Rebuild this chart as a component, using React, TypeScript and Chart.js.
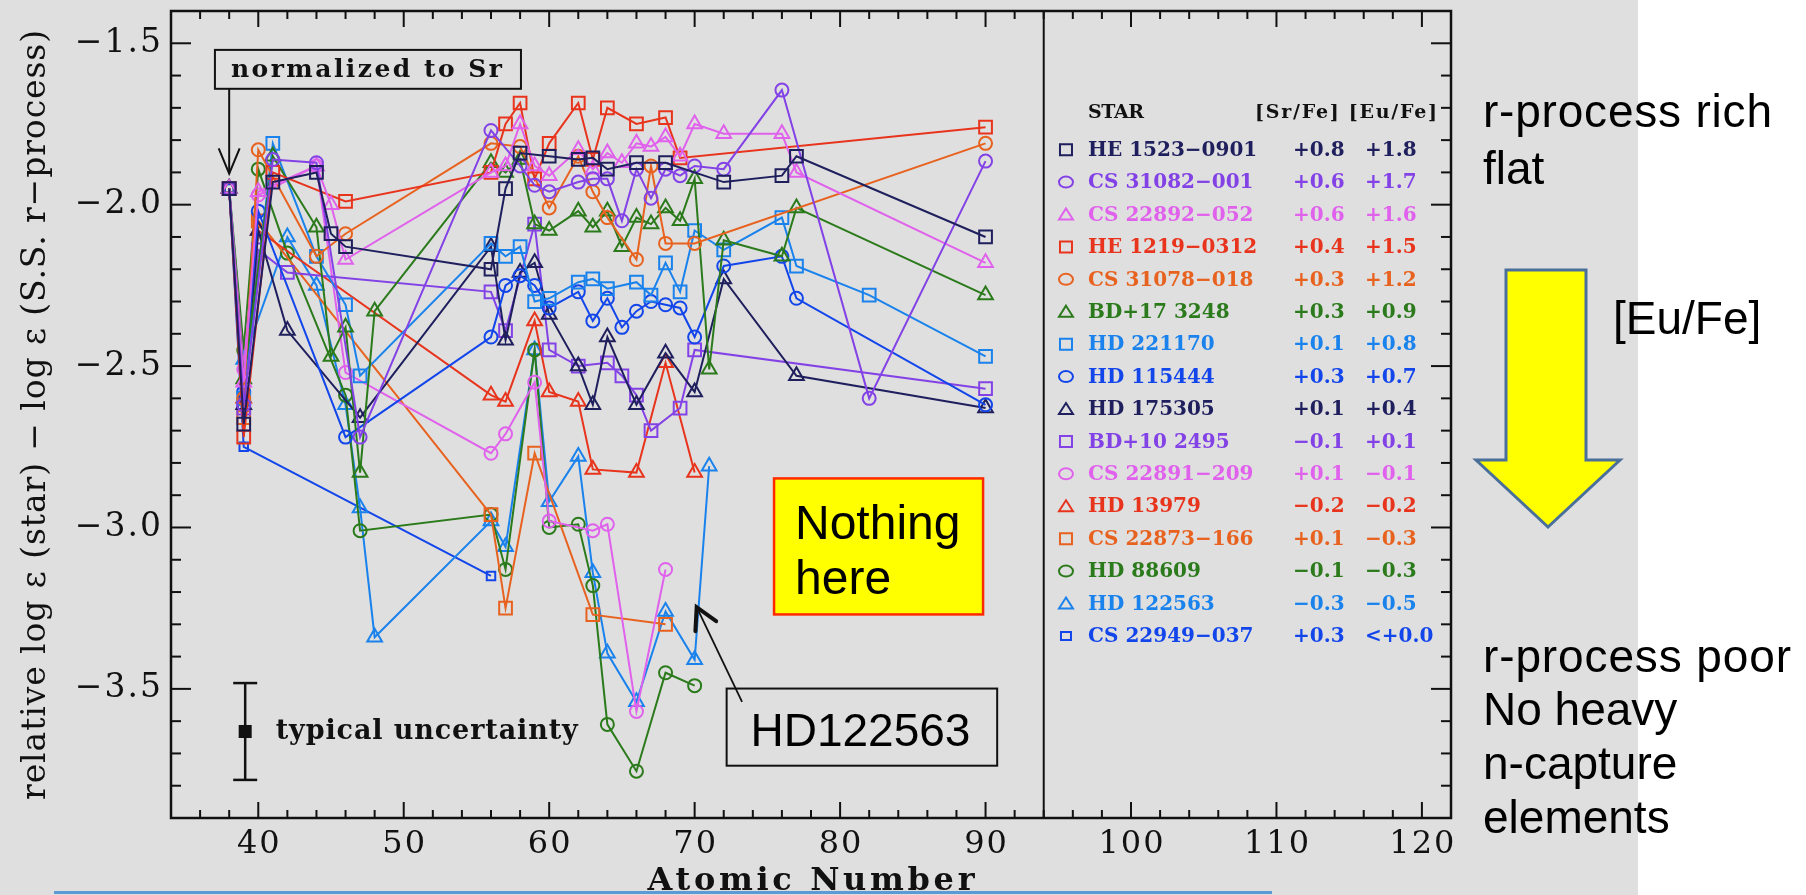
import React, { useEffect, useRef } from 'react';
import { Chart, registerables } from 'chart.js';
Chart.register(...registerables);

// ---------- data (atomic number Z, relative log eps) ----------
const HE1523_Z = [38, 39, 41, 44, 45, 46, 56, 57, 58, 60, 62, 63, 64, 66, 68, 72, 76, 77, 90];
const HE1523_V = [-1.95, -2.68, -1.93, -1.90, -2.09, -2.13, -2.20, -1.95, -1.84, -1.85, -1.86, -1.855, -1.89, -1.87, -1.87, -1.93, -1.91, -1.85, -2.10];

const CS31082_Z = [38, 39, 41, 44, 47, 56, 58, 59, 60, 62, 63, 64, 65, 66, 67, 68, 69, 70, 72, 76, 82, 90];
const CS31082_V = [-1.95, -2.62, -1.86, -1.87, -2.72, -1.77, -1.88, -1.94, -1.96, -1.93, -1.92, -1.92, -2.05, -1.89, -1.98, -1.89, -1.91, -1.88, -1.89, -1.645, -2.60, -1.865];

const CS22892_Z = [38, 39, 40, 44, 45, 46, 56, 57, 58, 59, 60, 62, 63, 64, 65, 66, 67, 68, 69, 70, 72, 76, 77, 90];
const CS22892_V = [-1.95, -2.55, -1.96, -1.88, -2.00, -2.17, -1.90, -1.88, -1.75, -1.88, -1.91, -1.83, -1.89, -1.84, -1.87, -1.81, -1.82, -1.79, -1.85, -1.75, -1.78, -1.78, -1.90, -2.18];

const HE1219_Z = [38, 39, 41, 46, 56, 57, 58, 59, 60, 62, 63, 64, 66, 68, 69, 90];
const HE1219_V = [-1.95, -2.72, -1.90, -1.99, -1.90, -1.75, -1.685, -1.92, -1.81, -1.685, -1.86, -1.70, -1.75, -1.73, -1.855, -1.76];

const CS31078_Z = [38, 39, 40, 44, 46, 56, 58, 60, 62, 63, 64, 66, 67, 68, 70, 90];
const CS31078_V = [-1.95, -2.60, -1.83, -2.16, -2.09, -1.81, -1.82, -2.01, -1.85, -1.96, -2.04, -2.17, -1.88, -2.12, -2.12, -1.81];

const BD17_Z = [38, 39, 41, 44, 45, 46, 47, 48, 56, 57, 58, 59, 60, 62, 63, 64, 65, 66, 67, 68, 69, 70, 71, 72, 76, 77, 90];
const BD17_V = [-1.95, -2.54, -1.85, -2.07, -2.47, -2.38, -2.83, -2.33, -1.87, -1.90, -1.86, -2.06, -2.08, -2.02, -2.07, -2.02, -2.13, -2.04, -2.06, -2.01, -2.05, -1.92, -2.51, -2.11, -2.16, -2.01, -2.28];

const HD221170_Z = [38, 39, 41, 44, 46, 47, 56, 57, 58, 59, 60, 62, 63, 64, 66, 67, 68, 69, 70, 72, 76, 77, 82, 90];
const HD221170_V = [-1.95, -2.60, -1.81, -2.16, -2.31, -2.53, -2.12, -2.16, -2.13, -2.30, -2.29, -2.24, -2.23, -2.26, -2.24, -2.28, -2.18, -2.27, -2.08, -2.14, -2.04, -2.19, -2.28, -2.47];

const HD115444_Z = [38, 39, 40, 46, 56, 57, 58, 59, 60, 62, 63, 64, 65, 66, 67, 68, 69, 70, 72, 76, 77, 90];
const HD115444_V = [-1.95, -2.58, -2.02, -2.72, -2.41, -2.25, -2.22, -2.25, -2.32, -2.27, -2.36, -2.29, -2.38, -2.33, -2.30, -2.31, -2.32, -2.41, -2.19, -2.16, -2.29, -2.62];

const HD175305_Z = [38, 39, 40, 42, 47, 56, 57, 58, 59, 60, 62, 63, 64, 66, 68, 70, 72, 77, 90];
const HD175305_V = [-1.95, -2.62, -2.08, -2.39, -2.66, -2.13, -2.42, -2.21, -2.18, -2.34, -2.50, -2.62, -2.41, -2.62, -2.46, -2.58, -2.23, -2.53, -2.63];

const BD10_Z = [38, 39, 40, 42, 56, 57, 59, 60, 62, 64, 65, 66, 67, 69, 70, 90];
const BD10_V = [-1.95, -2.63, -2.14, -2.21, -2.27, -2.39, -2.06, -2.45, -2.50, -2.49, -2.53, -2.59, -2.70, -2.63, -2.45, -2.57];

const CS22891_Z = [38, 39, 40, 44, 46, 56, 57, 59, 60, 63, 64, 66, 68];
const CS22891_V = [-1.95, -2.51, -1.97, -1.88, -2.52, -2.77, -2.71, -2.55, -2.98, -3.01, -2.99, -3.57, -3.13];

const HD13979_Z = [38, 39, 40, 56, 57, 59, 60, 62, 63, 66, 68, 70];
const HD13979_V = [-1.95, -2.60, -2.08, -2.59, -2.61, -2.36, -2.58, -2.61, -2.82, -2.83, -2.49, -2.83];

const CS22873_Z = [38, 39, 40, 56, 57, 59, 63, 68];
const CS22873_V = [-1.95, -2.66, -2.05, -2.96, -3.25, -2.77, -3.27, -3.30];

const HD88609_Z = [38, 39, 40, 42, 46, 47, 56, 57, 59, 60, 62, 63, 64, 66, 68, 70];
const HD88609_V = [-1.95, -2.45, -1.89, -2.15, -2.59, -3.01, -2.96, -3.13, -2.45, -3.00, -2.99, -3.18, -3.61, -3.755, -3.45, -3.49];

const HD122563_Z = [38, 39, 42, 44, 46, 47, 48, 56, 57, 59, 60, 62, 63, 64, 66, 68, 70, 71];
const HD122563_V = [-1.95, -2.48, -2.10, -2.25, -2.62, -2.94, -3.34, -2.98, -3.06, -2.45, -2.92, -2.78, -3.14, -3.39, -3.54, -3.26, -3.41, -2.81];

const CS22949_Z = [38, 39, 56];
const CS22949_V = [-1.95, -2.75, -3.15];

const STAR_NAMES = ['HE 1523\u22120901', 'CS 31082\u2212001', 'CS 22892\u2212052', 'HE 1219\u22120312', 'CS 31078\u2212018', 'BD+17 3248', 'HD 221170', 'HD 115444', 'HD 175305', 'BD+10 2495', 'CS 22891\u2212209', 'HD 13979', 'CS 22873\u2212166', 'HD 88609', 'HD 122563', 'CS 22949\u2212037'];
const SR_FE = ['+0.8', '+0.6', '+0.6', '+0.4', '+0.3', '+0.3', '+0.1', '+0.3', '+0.1', '\u22120.1', '+0.1', '\u22120.2', '+0.1', '\u22120.1', '\u22120.3', '+0.3'];
const EU_FE = ['+1.8', '+1.7', '+1.6', '+1.5', '+1.2', '+0.9', '+0.8', '+0.7', '+0.4', '+0.1', '\u22120.1', '\u22120.2', '\u22120.3', '\u22120.3', '\u22120.5', '<+0.0'];

const Y_TICK_LABELS = ['\u22121.5', '\u22122.0', '\u22122.5', '\u22123.0', '\u22123.5'];
const Y_TICK_VALUES = [-1.5, -2.0, -2.5, -3.0, -3.5];
const X_TICK_VALUES = [40, 50, 60, 70, 80, 90, 100, 110, 120];

// ---------- styles ----------
const NAVY = '#1f1f5e';
const PURPLE = '#8342e6';
const ORCHID = '#e062ec';
const RED = '#e8341c';
const ORANGE = '#e8621f';
const GREEN = '#2b7a1b';
const LBLUE = '#1a82ec';
const BLUE = '#1346ea';

const SERIES = [
  { z: HE1523_Z, v: HE1523_V, color: NAVY, style: 'rect', r: 9 },
  { z: CS31082_Z, v: CS31082_V, color: PURPLE, style: 'circle', r: 6.5 },
  { z: CS22892_Z, v: CS22892_V, color: ORCHID, style: 'triangle', r: 8.5 },
  { z: HE1219_Z, v: HE1219_V, color: RED, style: 'rect', r: 9 },
  { z: CS31078_Z, v: CS31078_V, color: ORANGE, style: 'circle', r: 6.5 },
  { z: BD17_Z, v: BD17_V, color: GREEN, style: 'triangle', r: 8.5 },
  { z: HD221170_Z, v: HD221170_V, color: LBLUE, style: 'rect', r: 9 },
  { z: HD115444_Z, v: HD115444_V, color: BLUE, style: 'circle', r: 6.5 },
  { z: HD175305_Z, v: HD175305_V, color: NAVY, style: 'triangle', r: 8.5 },
  { z: BD10_Z, v: BD10_V, color: PURPLE, style: 'rect', r: 9 },
  { z: CS22891_Z, v: CS22891_V, color: ORCHID, style: 'circle', r: 6.5 },
  { z: HD13979_Z, v: HD13979_V, color: RED, style: 'triangle', r: 8.5 },
  { z: CS22873_Z, v: CS22873_V, color: ORANGE, style: 'rect', r: 9 },
  { z: HD88609_Z, v: HD88609_V, color: GREEN, style: 'circle', r: 6.5 },
  { z: HD122563_Z, v: HD122563_V, color: LBLUE, style: 'triangle', r: 8.5 },
  { z: CS22949_Z, v: CS22949_V, color: BLUE, style: 'rect', r: 6 },
];

const W = 1806;
const H = 895;
const SERIF = '"DejaVu Serif", "Liberation Serif", serif';
const SANS = '"Liberation Sans", Arial, sans-serif';

function spacedText(ctx: CanvasRenderingContext2D, text: string, x: number, y: number, ls: number, align = 'left') {
  (ctx as any).letterSpacing = '0px';
  const n = Array.from(text).length;
  const w = ctx.measureText(text).width + ls * (n - 1);
  let x0 = x;
  if (align === 'center') x0 = x - w / 2;
  else if (align === 'right') x0 = x - w;
  ctx.textAlign = 'left';
  (ctx as any).letterSpacing = ls + 'px';
  ctx.fillText(text, x0, y);
  (ctx as any).letterSpacing = '0px';
}

function fitText(ctx: CanvasRenderingContext2D, text: string, x: number, y: number, width: number, align = 'left') {
  (ctx as any).letterSpacing = '0px';
  const n = Array.from(text).length;
  const w = ctx.measureText(text).width;
  const ls = n > 1 ? (width - w) / (n - 1) : 0;
  spacedText(ctx, text, x, y, ls, align);
}

function line(ctx: CanvasRenderingContext2D, x1: number, y1: number, x2: number, y2: number) {
  ctx.beginPath();
  ctx.moveTo(x1, y1);
  ctx.lineTo(x2, y2);
  ctx.stroke();
}

function legendMarker(ctx: CanvasRenderingContext2D, style: string, cx: number, cy: number, color: string, small: boolean) {
  ctx.strokeStyle = color;
  ctx.lineWidth = 2;
  ctx.beginPath();
  if (style === 'rect') {
    if (small) ctx.rect(cx - 5, cy - 4, 10, 8);
    else ctx.rect(cx - 6, cy - 5.5, 12, 11);
  } else if (style === 'circle') {
    ctx.ellipse(cx, cy, 7, 5.5, 0, 0, Math.PI * 2);
  } else {
    ctx.moveTo(cx, cy - 6);
    ctx.lineTo(cx + 7, cy + 5);
    ctx.lineTo(cx - 7, cy + 5);
    ctx.closePath();
  }
  ctx.stroke();
}

const decorPlugin = {
  id: 'decor',
  beforeDraw(chart: any) {
    const ctx = chart.ctx as CanvasRenderingContext2D;
    ctx.save();
    ctx.fillStyle = '#ffffff';
    ctx.fillRect(0, 0, W, H);
    ctx.fillStyle = '#dfdfdf';
    ctx.fillRect(0, 0, 1638, H);
    ctx.restore();
  },
  afterDraw(chart: any) {
    const ctx = chart.ctx as CanvasRenderingContext2D;
    const { left, right, top, bottom } = chart.chartArea;
    const xs = chart.scales.x;
    const ys = chart.scales.y;
    const px = (v: number) => xs.getPixelForValue(v);
    const py = (v: number) => ys.getPixelForValue(v);
    ctx.save();

    // frame
    ctx.strokeStyle = '#111111';
    ctx.lineWidth = 2.5;
    ctx.strokeRect(left, top, right - left, bottom - top);
    ctx.lineWidth = 2;
    line(ctx, px(94), top, px(94), bottom);

    // y ticks
    for (let i = 0; i <= 25; i++) {
      const v = -3.9 + i * 0.1;
      const major = Math.abs(v * 2 - Math.round(v * 2)) < 1e-6;
      const len = major ? 20 : 10;
      const Y = py(v);
      line(ctx, left, Y, left + len, Y);
      line(ctx, right, Y, right - len, Y);
    }
    // x ticks
    for (let z = 34; z <= 122; z += 2) {
      const major = z % 10 === 0;
      const len = major ? 16 : 8;
      const X = px(z);
      line(ctx, X, bottom, X, bottom - len);
      line(ctx, X, top, X, top + len);
    }

    // tick labels
    ctx.fillStyle = '#111111';
    ctx.font = `33px ${SERIF}`;
    ctx.textBaseline = 'middle';
    Y_TICK_VALUES.forEach((v, i) => spacedText(ctx, Y_TICK_LABELS[i], left - 10, py(v), 2, 'right'));
    ctx.font = `32px ${SERIF}`;
    X_TICK_VALUES.forEach((z) => spacedText(ctx, String(z), px(z), bottom + 27, 2, 'center'));

    // axis titles
    ctx.font = `bold 32px ${SERIF}`;
    ctx.textBaseline = 'alphabetic';
    fitText(ctx, 'Atomic Number', (left + right) / 2, bottom + 72, 327, 'center');
    ctx.save();
    ctx.translate(36, 415);
    ctx.rotate(-Math.PI / 2);
    ctx.font = `33px ${SERIF}`;
    ctx.textBaseline = 'middle';
    fitText(ctx, 'relative log \u03b5 (star) \u2212 log \u03b5 (S.S. r\u2212process)', 0, 0, 770, 'center');
    ctx.restore();

    // legend
    const LEG_MARK_X = 95.53, LEG_NAME_X = 97.05, LEG_SR_X = 111.14, LEG_EU_X = 116.09, LEG_HEAD_X2 = 108.53;
    const LEG_HEAD_Y = -1.7158, LEG_ROW0_Y = -1.8295, LEG_STEP = 0.10043;
    ctx.textBaseline = 'middle';
    ctx.fillStyle = '#111111';
    ctx.font = `bold 19px ${SERIF}`;
    fitText(ctx, 'STAR', px(LEG_NAME_X), py(LEG_HEAD_Y), 56, 'left');
    fitText(ctx, '[Sr/Fe] [Eu/Fe]', px(LEG_HEAD_X2), py(LEG_HEAD_Y), 182, 'left');
    SERIES.forEach((s, i) => {
      const Y = py(LEG_ROW0_Y - i * LEG_STEP);
      legendMarker(ctx, s.style, px(LEG_MARK_X), Y, s.color, i === 15);
      ctx.fillStyle = s.color;
      ctx.font = `bold 20px ${SERIF}`;
      ctx.textAlign = 'left';
      ctx.fillText(STAR_NAMES[i], px(LEG_NAME_X), Y + 1);
      ctx.fillText(SR_FE[i], px(LEG_SR_X), Y + 1);
      ctx.fillText(EU_FE[i], px(LEG_EU_X), Y + 1);
    });

    // "normalized to Sr" box + arrow
    ctx.strokeStyle = '#111111';
    ctx.lineWidth = 2;
    const bx0 = px(37.02), bx1 = px(58.06), by0 = py(-1.5205), by1 = py(-1.641);
    ctx.fillStyle = '#dfdfdf';
    ctx.fillRect(bx0, by0, bx1 - bx0, by1 - by0);
    ctx.strokeRect(bx0, by0, bx1 - bx0, by1 - by0);
    ctx.fillStyle = '#111111';
    ctx.font = `bold 25px ${SERIF}`;
    ctx.textBaseline = 'middle';
    fitText(ctx, 'normalized to Sr', px(38.12), py(-1.584), 271, 'left');
    const ax = px(38);
    line(ctx, ax, by1, ax, py(-1.904));
    ctx.beginPath();
    ctx.moveTo(px(37.28), py(-1.8255));
    ctx.lineTo(ax, py(-1.904));
    ctx.lineTo(px(38.72), py(-1.8255));
    ctx.stroke();

    // typical uncertainty
    const ex = px(39.1);
    const ey = py(-3.632);
    ctx.lineWidth = 2.5;
    line(ctx, ex, py(-3.482), ex, py(-3.782));
    line(ctx, ex - 12, py(-3.482), ex + 12, py(-3.482));
    line(ctx, ex - 12, py(-3.782), ex + 12, py(-3.782));
    ctx.fillRect(ex - 6.5, ey - 6.5, 13, 13);
    ctx.font = `bold 27px ${SERIF}`;
    ctx.textBaseline = 'middle';
    fitText(ctx, 'typical uncertainty', px(41.2), ey, 302, 'left');

    // "Nothing here" box
    const nx0 = px(75.46), nx1 = px(89.83), ny0 = py(-2.848), ny1 = py(-3.2694);
    ctx.fillStyle = '#ffff00';
    ctx.fillRect(nx0, ny0, nx1 - nx0, ny1 - ny0);
    ctx.strokeStyle = '#ff2a00';
    ctx.lineWidth = 2.5;
    ctx.strokeRect(nx0, ny0, nx1 - nx0, ny1 - ny0);
    ctx.fillStyle = '#000000';
    ctx.font = `48px ${SANS}`;
    ctx.textBaseline = 'alphabetic';
    ctx.textAlign = 'left';
    ctx.fillText('Nothing', px(76.9), py(-3.0347));
    ctx.fillText('here', px(76.9), py(-3.2047));

    // HD122563 box + arrow
    const hx0 = px(72.2), hx1 = px(90.8), hy0 = py(-3.499), hy1 = py(-3.738);
    ctx.strokeStyle = '#111111';
    ctx.lineWidth = 2;
    ctx.strokeRect(hx0, hy0, hx1 - hx0, hy1 - hy0);
    ctx.font = `46px ${SANS}`;
    ctx.textAlign = 'center';
    ctx.fillText('HD122563', px(81.4), py(-3.6775));
    ctx.textAlign = 'left';
    const tx = px(70.14), ty = py(-3.247), sx = px(73.26), sy = py(-3.5406);
    ctx.lineWidth = 1.8;
    line(ctx, sx, sy, tx, ty);
    const ang = Math.atan2(sy - ty, sx - tx);
    ctx.lineWidth = 4;
    ctx.lineCap = 'round';
    ctx.beginPath();
    ctx.moveTo(tx + 24 * Math.cos(ang - 0.5), ty + 24 * Math.sin(ang - 0.5));
    ctx.lineTo(tx, ty);
    ctx.lineTo(tx + 24 * Math.cos(ang + 0.5), ty + 24 * Math.sin(ang + 0.5));
    ctx.stroke();
    ctx.lineCap = 'butt';

    // right side slide text
    ctx.fillStyle = '#000000';
    ctx.font = `46px ${SANS}`;
    ctx.textBaseline = 'alphabetic';
    fitText(ctx, 'r-process rich', 1483, 127, 289, 'left');
    ctx.fillText('flat', 1483, 184);
    ctx.fillText('[Eu/Fe]', 1613, 334);
    fitText(ctx, 'r-process poor', 1483, 672, 308, 'left');
    ctx.fillText('No heavy', 1483, 725);
    ctx.fillText('n-capture', 1483, 779);
    ctx.fillText('elements', 1483, 833);

    // yellow arrow
    ctx.beginPath();
    ctx.moveTo(1506, 270);
    ctx.lineTo(1586, 270);
    ctx.lineTo(1586, 460);
    ctx.lineTo(1620, 460);
    ctx.lineTo(1548, 527);
    ctx.lineTo(1476, 460);
    ctx.lineTo(1506, 460);
    ctx.closePath();
    ctx.fillStyle = '#ffff00';
    ctx.fill();
    ctx.strokeStyle = '#4a6f9a';
    ctx.lineWidth = 3;
    ctx.stroke();

    // blue slide line
    ctx.strokeStyle = '#5b9bd5';
    ctx.lineWidth = 3;
    line(ctx, 54, 892.5, 1272, 892.5);

    ctx.restore();
  },
};

export default function App() {
  const ref = useRef<HTMLCanvasElement>(null);
  useEffect(() => {
    document.body.style.margin = '0';
    const canvas = ref.current;
    if (!canvas) return;
    const datasets = SERIES.map((s, i) => ({
      label: STAR_NAMES[i],
      data: s.z.map((z, k) => ({ x: z, y: s.v[k] })),
      borderColor: s.color,
      backgroundColor: 'rgba(0,0,0,0)',
      borderWidth: 2,
      pointStyle: s.style as any,
      pointRadius: s.r,
      pointBorderWidth: 2,
      pointBorderColor: s.color,
      pointBackgroundColor: 'rgba(0,0,0,0)',
      showLine: true,
      tension: 0,
      fill: false,
    }));
    const chart = new Chart(canvas, {
      type: 'line',
      data: { datasets },
      options: {
        animation: false,
        responsive: false,
        devicePixelRatio: 1,
        layout: { padding: { left: 171, right: W - 1451, top: 9, bottom: H - 818 } },
        scales: {
          x: { type: 'linear', min: 34, max: 122, display: false },
          y: { type: 'linear', min: -3.9, max: -1.4, display: false },
        },
        plugins: { legend: { display: false }, tooltip: { enabled: false } },
      },
      plugins: [decorPlugin],
    } as any);
    return () => chart.destroy();
  }, []);
  return (
    <div style={{ width: W, height: H, position: 'relative', overflow: 'hidden' }}>
      <canvas ref={ref} width={W} height={H} style={{ display: 'block', width: W + 'px', height: H + 'px' }} />
    </div>
  );
}
